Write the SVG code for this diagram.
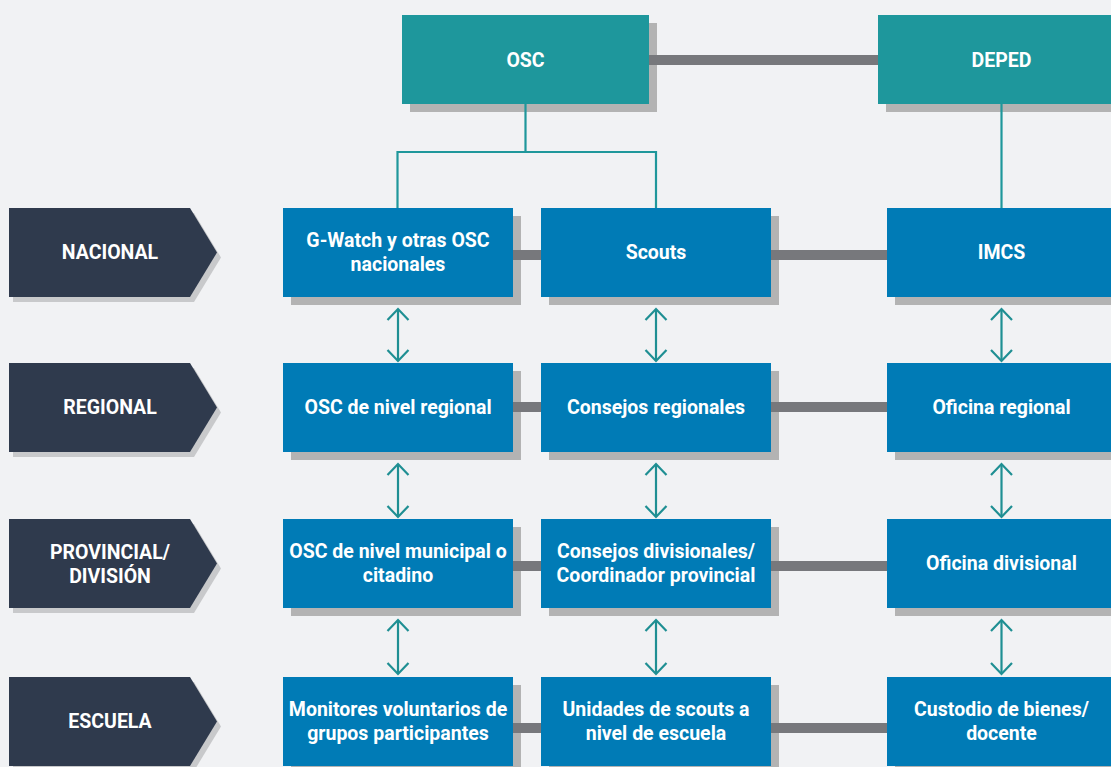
<svg xmlns="http://www.w3.org/2000/svg" width="1111" height="767" viewBox="0 0 1111 767">
<style>
.bg{fill:#f1f2f4}
.sh{fill:#b3b3b3}
.lsh{fill:#c8c9cb}
.top{fill:#1e979c}
.box{fill:#007bb6}
.lvl{fill:#2f3a4d}
.t{font-family:Roboto,"Liberation Sans",sans-serif;font-weight:700;font-size:19.5px;fill:#ffffff;text-anchor:middle}
.gl{stroke:#77787c;stroke-width:10;fill:none}
.tl{stroke:#1f979b;stroke-width:2.2;fill:none}
.ar{stroke:#1f8f93;stroke-width:2.2;fill:none;marker-start:url(#chev);marker-end:url(#chev)}
</style>
<defs>
<marker id="chev" viewBox="-13 -12 15 24" refX="0" refY="0" markerWidth="15" markerHeight="24" markerUnits="userSpaceOnUse" orient="auto-start-reverse">
<path d="M-11,-10.5 L0,0 L-11,10.5" fill="none" stroke="#1f8f93" stroke-width="2.2"/>
</marker>
</defs>
<rect class="bg" x="0" y="0" width="1111" height="767"/>

<g id="shadows">
<rect class="sh" x="410" y="23" width="247" height="89"/>
<rect class="sh" x="886" y="23" width="240" height="89"/>
<polygon class="lsh" points="13,213 194,213 221,257.5 194,302 13,302"/>
<polygon class="lsh" points="13,368 194,368 221,412.5 194,457 13,457"/>
<polygon class="lsh" points="13,524 194,524 221,568.5 194,613 13,613"/>
<polygon class="lsh" points="13,682 194,682 221,726.5 194,771 13,771"/>
<rect class="sh" x="291" y="216" width="230" height="89"/>
<rect class="sh" x="549" y="216" width="230" height="89"/>
<rect class="sh" x="895" y="216" width="230" height="89"/>
<rect class="sh" x="291" y="371" width="230" height="89"/>
<rect class="sh" x="549" y="371" width="230" height="89"/>
<rect class="sh" x="895" y="371" width="230" height="89"/>
<rect class="sh" x="291" y="527" width="230" height="89"/>
<rect class="sh" x="549" y="527" width="230" height="89"/>
<rect class="sh" x="895" y="527" width="230" height="89"/>
<rect class="sh" x="291" y="685" width="230" height="89"/>
<rect class="sh" x="549" y="685" width="230" height="89"/>
<rect class="sh" x="895" y="685" width="230" height="89"/>
</g>

<g id="connectors">
<line class="gl" x1="649" y1="60" x2="878" y2="60"/>
<line class="gl" x1="513" y1="255" x2="541" y2="255"/>
<line class="gl" x1="771" y1="255" x2="887" y2="255"/>
<line class="gl" x1="513" y1="407" x2="541" y2="407"/>
<line class="gl" x1="771" y1="407" x2="887" y2="407"/>
<line class="gl" x1="513" y1="566" x2="541" y2="566"/>
<line class="gl" x1="771" y1="566" x2="887" y2="566"/>
<line class="gl" x1="513" y1="728" x2="541" y2="728"/>
<line class="gl" x1="771" y1="728" x2="887" y2="728"/>
<polyline class="tl" points="525.5,104 525.5,152 397.5,152 397.5,208"/>
<polyline class="tl" points="525.5,152 656,152 656,208"/>
<line class="tl" x1="1001.5" y1="104" x2="1001.5" y2="211"/>
<line class="ar" x1="398" y1="309" x2="398" y2="361"/>
<line class="ar" x1="656" y1="309" x2="656" y2="361"/>
<line class="ar" x1="1001.5" y1="309" x2="1001.5" y2="361"/>
<line class="ar" x1="398" y1="464" x2="398" y2="517"/>
<line class="ar" x1="656" y1="464" x2="656" y2="517"/>
<line class="ar" x1="1001.5" y1="464" x2="1001.5" y2="517"/>
<line class="ar" x1="398" y1="620" x2="398" y2="674"/>
<line class="ar" x1="656" y1="620" x2="656" y2="674"/>
<line class="ar" x1="1001.5" y1="620" x2="1001.5" y2="674"/>
</g>

<g id="osc"><rect class="top" x="402" y="15" width="247" height="89"/><text class="t" x="525.5" y="67">OSC</text></g>
<g id="deped"><rect class="top" x="878" y="15" width="240" height="89"/><text class="t" x="1001.5" y="67">DEPED</text></g>

<g id="lvl-nacional"><polygon class="lvl" points="9,208 190,208 217,252.5 190,297 9,297"/><text class="t" x="110" y="259">NACIONAL</text></g>
<g id="lvl-regional"><polygon class="lvl" points="9,363 190,363 217,407.5 190,452 9,452"/><text class="t" x="110" y="414">REGIONAL</text></g>
<g id="lvl-provincial"><polygon class="lvl" points="9,519 190,519 217,563.5 190,608 9,608"/><text class="t" x="110" y="559">PROVINCIAL/</text><text class="t" x="110" y="583">DIVISIÓN</text></g>
<g id="lvl-escuela"><polygon class="lvl" points="9,677 190,677 217,721.5 190,766 9,766"/><text class="t" x="110" y="728">ESCUELA</text></g>

<g id="gwatch"><rect class="box" x="283" y="208" width="230" height="89"/><text class="t" x="398" y="247">G-Watch y otras OSC</text><text class="t" x="398" y="271">nacionales</text></g>
<g id="scouts"><rect class="box" x="541" y="208" width="230" height="89"/><text class="t" x="656" y="259">Scouts</text></g>
<g id="imcs"><rect class="box" x="887" y="208" width="230" height="89"/><text class="t" x="1001.5" y="259">IMCS</text></g>

<g id="osc-regional"><rect class="box" x="283" y="363" width="230" height="89"/><text class="t" x="398" y="414">OSC de nivel regional</text></g>
<g id="consejos-regionales"><rect class="box" x="541" y="363" width="230" height="89"/><text class="t" x="656" y="414">Consejos regionales</text></g>
<g id="oficina-regional"><rect class="box" x="887" y="363" width="230" height="89"/><text class="t" x="1001.5" y="414">Oficina regional</text></g>

<g id="osc-municipal"><rect class="box" x="283" y="519" width="230" height="89"/><text class="t" x="398" y="558">OSC de nivel municipal o</text><text class="t" x="398" y="582">citadino</text></g>
<g id="consejos-divisionales"><rect class="box" x="541" y="519" width="230" height="89"/><text class="t" x="656" y="558">Consejos divisionales/</text><text class="t" x="656" y="582">Coordinador provincial</text></g>
<g id="oficina-divisional"><rect class="box" x="887" y="519" width="230" height="89"/><text class="t" x="1001.5" y="570">Oficina divisional</text></g>

<g id="monitores"><rect class="box" x="283" y="677" width="230" height="89"/><text class="t" x="398" y="716">Monitores voluntarios de</text><text class="t" x="398" y="740">grupos participantes</text></g>
<g id="unidades"><rect class="box" x="541" y="677" width="230" height="89"/><text class="t" x="656" y="716">Unidades de scouts a</text><text class="t" x="656" y="740">nivel de escuela</text></g>
<g id="custodio"><rect class="box" x="887" y="677" width="230" height="89"/><text class="t" x="1001.5" y="716">Custodio de bienes/</text><text class="t" x="1001.5" y="740">docente</text></g>
</svg>
